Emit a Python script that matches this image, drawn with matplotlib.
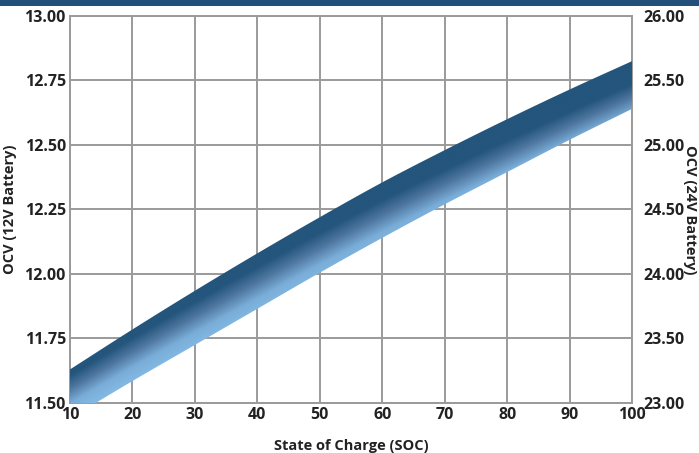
import numpy as np
import matplotlib.pyplot as plt
from matplotlib import font_manager
from matplotlib.colors import LinearSegmentedColormap

# state of charge and open-circuit voltage band (12V battery)
soc = [10, 20, 30, 40, 50, 60, 70, 80, 90, 100]
ocv_high = [11.63, 11.785, 11.935, 12.08, 12.22, 12.355, 12.48, 12.60, 12.715, 12.825]
ocv_low = [11.44, 11.585, 11.725, 11.865, 12.005, 12.14, 12.27, 12.395, 12.52, 12.64]
left_ticks = [11.50, 11.75, 12.00, 12.25, 12.50, 12.75, 13.00]
right_ticks = [23.00, 23.50, 24.00, 24.50, 25.00, 25.50, 26.00]

# pick a regular-width bold face
bold_file = None
for name in ['Open Sans', 'Noto Sans', 'Lato', 'Roboto']:
    for f in font_manager.fontManager.ttflist:
        if f.name == name and f.weight in (700, 'bold') and f.stretch in ('normal', 500) \
                and f.style == 'normal':
            bold_file = f.fname
            break
    if bold_file:
        break


def bold(size):
    if bold_file:
        return font_manager.FontProperties(fname=bold_file, size=size)
    return font_manager.FontProperties(family='DejaVu Sans', weight='bold', size=size)


dark = '#24557c'
band_cmap = LinearSegmentedColormap.from_list(
    'band', [(0.0, '#84bae5'), (0.3, '#7aaed9'), (0.6, '#4f77a0'), (0.88, dark), (1.0, dark)])


def smooth(xp, yp, n=400):
    # catmull-rom curve through the read points
    xp = np.asarray(xp, float)
    yp = np.asarray(yp, float)
    px = np.concatenate([[2 * xp[0] - xp[1]], xp, [2 * xp[-1] - xp[-2]]])
    py = np.concatenate([[2 * yp[0] - yp[1]], yp, [2 * yp[-1] - yp[-2]]])
    outx, outy = [], []
    for i in range(1, len(px) - 2):
        s = np.linspace(0, 1, n // len(xp), endpoint=False)
        for arr, out in ((px, outx), (py, outy)):
            p0, p1, p2, p3 = arr[i - 1], arr[i], arr[i + 1], arr[i + 2]
            out.extend(0.5 * (2 * p1 + (-p0 + p2) * s + (2 * p0 - 5 * p1 + 4 * p2 - p3) * s ** 2
                              + (-p0 + 3 * p1 - 3 * p2 + p3) * s ** 3))
    outx.append(xp[-1])
    outy.append(yp[-1])
    return np.array(outx), np.array(outy)


fig = plt.figure(figsize=(6.99, 4.53), dpi=100)
ax = fig.add_axes([0.1001, 0.1104, 0.8041, 0.8543])

sx, shi = smooth(soc, ocv_high)
_, slo = smooth(soc, ocv_low)

# gradient image across the band (slightly tilted), clipped to the band outline
xs = np.linspace(10, 100, 700)
ys = np.linspace(11.3, 13.0, 900)
X, Y = np.meshgrid(xs, ys)
top = np.interp(X, sx, shi)
bot = np.interp(X, sx, slo)
t = np.clip((Y - bot) / (top - bot) + 0.35 * (X - 10) / 90, 0, 1)
im = ax.imshow(t, extent=[10, 100, 11.3, 13.0], origin='lower', aspect='auto',
               cmap=band_cmap, vmin=0, vmax=1, interpolation='bilinear', zorder=3)
poly = ax.fill_between(sx, slo, shi, facecolor='none', edgecolor='none', zorder=3)
im.set_clip_path(poly.get_paths()[0], transform=ax.transData)

ax.set_xlim(10, 100)
ax.set_ylim(11.5, 13.0)
ax.set_xticks(soc)
ax.set_yticks(left_ticks)
ax.set_yticklabels(['%.2f' % v for v in left_ticks])
ax.grid(True, color='#9a9a9a', linewidth=1.4, zorder=1)
ax.set_axisbelow(True)
for s in ax.spines.values():
    s.set_color('#9a9a9a')
    s.set_linewidth(1.4)
ax.tick_params(length=0, pad=3, labelcolor='#222222')
for lab in ax.get_xticklabels() + ax.get_yticklabels():
    lab.set_fontproperties(bold(11.5))
ax.set_xlabel('State of Charge (SOC)', fontproperties=bold(10.5), color='#222222')
ax.xaxis.set_label_coords(0.5, -0.094)
ax.set_ylabel('OCV (12V Battery)', fontproperties=bold(10.5), color='#222222')
ax.yaxis.set_label_coords(-0.095, 0.5)

ax2 = ax.twinx()
ax2.set_ylim(23.0, 26.0)
ax2.set_yticks(right_ticks)
ax2.set_yticklabels(['%.2f' % v for v in right_ticks])
for s in ax2.spines.values():
    s.set_visible(False)
ax2.tick_params(length=0, pad=8, labelcolor='#222222')
for lab in ax2.get_yticklabels():
    lab.set_fontproperties(bold(11.5))
ax2.set_ylabel('OCV (24V Battery)', fontproperties=bold(10.5), color='#222222',
               rotation=-90, va='center')
ax2.yaxis.set_label_coords(1.103, 0.5)

# dark strip along the top edge
fig.patches.append(plt.Rectangle((0, 0.986), 1, 0.014, transform=fig.transFigure,
                                 facecolor='#22507a', edgecolor='none'))

fig.savefig('out.png', dpi=100)
